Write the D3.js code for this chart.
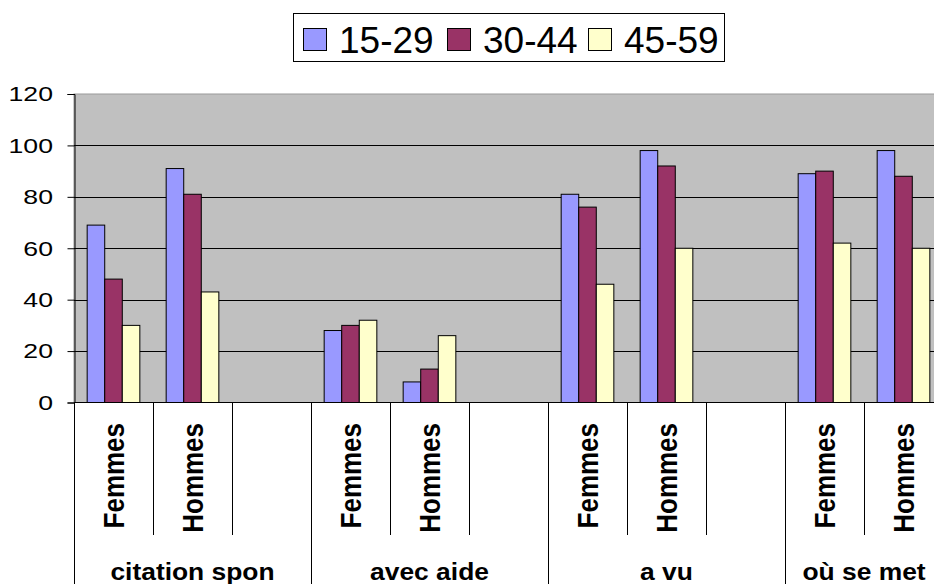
<!DOCTYPE html>
<html>
<head>
<meta charset="utf-8">
<script src="https://cdn.jsdelivr.net/npm/d3@7"></script>
<style>
  body { margin: 0; background: #fff; overflow: hidden; }
  svg { display: block; font-family: "Liberation Sans", Arial, sans-serif; }
</style>
</head>
<body>
<svg id="chart"></svg>
<script>
"use strict";

// data
const groups = ["citation spon", "avec aide", "a vu", "où se met"];
const subLabels = [
  ["Femmes", "Hommes", ""],
  ["Femmes", "Hommes", ""],
  ["Femmes", "Hommes", ""],
  ["Femmes", "Hommes"]
];
const seriesNames = ["15-29", "30-44", "45-59"];
// one value per category (11 slots, blanks are null)
const v1529 = [69, 91, null, 28, 8, null, 81, 98, null, 89, 98];
const v3044 = [48, 81, null, 30, 13, null, 76, 92, null, 90, 88];
const v4559 = [30, 43, null, 32, 26, null, 46, 60, null, 62, 60];
const yTicks = [0, 20, 40, 60, 80, 100, 120];

const colors = ["#9999FF", "#993366", "#FFFFCC"];

// flat list of categories
const cats = [];
subLabels.forEach((subs, gi) => {
  subs.forEach((s, si) => cats.push({ id: gi + "-" + si, group: gi, label: s }));
});
const seriesValues = [v1529, v3044, v4559];

const W = 934, H = 584;
const plot = { left: 74, top: 94, bottom: 402.5, right: 74 + 79 * cats.length };

const svg = d3.select("#chart").attr("width", W).attr("height", H);

const x = d3.scaleBand()
  .domain(cats.map(c => c.id))
  .range([plot.left, plot.right])
  .padding(0);

const xs = d3.scaleBand()
  .domain(seriesNames)
  .range([0, x.bandwidth()])
  .paddingInner(0)
  .paddingOuter(0.75);

const y = d3.scaleLinear().domain([0, 120]).range([plot.bottom, plot.top]);

// plot background
svg.append("rect")
  .attr("x", plot.left).attr("y", y(120))
  .attr("width", plot.right - plot.left).attr("height", y(0) - y(120))
  .attr("fill", "#C0C0C0")
  .attr("stroke", "#999").attr("stroke-width", 1);

// gridlines
svg.append("g")
  .selectAll("line")
  .data(yTicks.filter(t => t > 0 && t < 120))
  .join("line")
  .attr("x1", plot.left).attr("x2", plot.right)
  .attr("y1", d => Math.round(y(d)) + 0.5).attr("y2", d => Math.round(y(d)) + 0.5)
  .attr("stroke", "#000").attr("stroke-width", 1);

// bars
seriesNames.forEach((s, si) => {
  const rows = cats.map((c, i) => ({ cat: c.id, v: seriesValues[si][i] }))
    .filter(d => d.v != null);
  svg.append("g")
    .selectAll("rect")
    .data(rows)
    .join("rect")
    .attr("x", d => x(d.cat) + xs(s))
    .attr("width", xs.bandwidth())
    .attr("y", d => y(d.v))
    .attr("height", d => y(0) - y(d.v))
    .attr("fill", colors[si])
    .attr("stroke", "#000")
    .attr("stroke-width", 1);
});

// y axis
const yAxis = svg.append("g")
  .attr("transform", `translate(${plot.left + 0.5},0)`)
  .call(d3.axisLeft(y).tickValues(yTicks).tickSize(7).tickFormat(""));
yAxis.select(".domain").attr("stroke", "#000");
yAxis.selectAll(".tick line").attr("stroke", "#000");

svg.append("g")
  .selectAll("text")
  .data(yTicks)
  .join("text")
  .attr("transform", d => `translate(53,${y(d)}) scale(1.3,1)`)
  .attr("dy", "0.36em")
  .attr("text-anchor", "end")
  .attr("font-size", 20.5)
  .attr("fill", "#000")
  .text(d => d);

// x axis line
svg.append("line")
  .attr("x1", plot.left).attr("x2", plot.right)
  .attr("y1", plot.bottom).attr("y2", plot.bottom)
  .attr("stroke", "#000").attr("stroke-width", 1.2);

// category separators (short) and group separators (long)
const bounds = cats.map((c, i) => ({
  x: x(c.id),
  groupStart: i === 0 || cats[i - 1].group !== c.group
}));
bounds.push({ x: plot.right, groupStart: true });

svg.append("g")
  .selectAll("line")
  .data(bounds)
  .join("line")
  .attr("x1", d => Math.round(d.x) + 0.5).attr("x2", d => Math.round(d.x) + 0.5)
  .attr("y1", plot.bottom)
  .attr("y2", d => d.groupStart ? H + 5 : 535)
  .attr("stroke", "#000").attr("stroke-width", 1);

// sub labels (rotated)
svg.append("g")
  .selectAll("text")
  .data(cats.filter(c => c.label))
  .join("text")
  .attr("transform", d => `translate(${x(d.id) + x.bandwidth() / 2},423) scale(1.15,1) rotate(-90)`)
  .attr("dy", "0.36em")
  .attr("text-anchor", "end")
  .attr("font-size", 26)
  .attr("font-weight", "bold")
  .attr("fill", "#000")
  .text(d => d.label);

// group labels
svg.append("g")
  .selectAll("text")
  .data(groups)
  .join("text")
  .attr("transform", (g, gi) => {
    const members = cats.filter(c => c.group === gi);
    const x0 = x(members[0].id), x1 = x(members[members.length - 1].id) + x.bandwidth();
    return `translate(${(x0 + x1) / 2},580) scale(1.1,1)`;
  })
  .attr("text-anchor", "middle")
  .attr("font-size", 24)
  .attr("font-weight", "bold")
  .attr("fill", "#000")
  .text(g => g);

// legend
const legend = svg.append("g");
legend.append("rect")
  .attr("x", 293.5).attr("y", 13.5)
  .attr("width", 431).attr("height", 48)
  .attr("fill", "#fff").attr("stroke", "#000").attr("stroke-width", 1);

const legendX = [303, 447, 588];
const item = legend.selectAll("g.item")
  .data(seriesNames)
  .join("g")
  .attr("class", "item")
  .attr("transform", (d, i) => `translate(${legendX[i]},0)`);

item.append("rect")
  .attr("x", 0.5).attr("y", 28.5)
  .attr("width", 23).attr("height", 22)
  .attr("fill", (d, i) => colors[i])
  .attr("stroke", "#000");

item.append("text")
  .attr("x", 36).attr("y", 53)
  .attr("font-size", 37)
  .attr("fill", "#000")
  .text(d => d);
</script>
</body>
</html>
